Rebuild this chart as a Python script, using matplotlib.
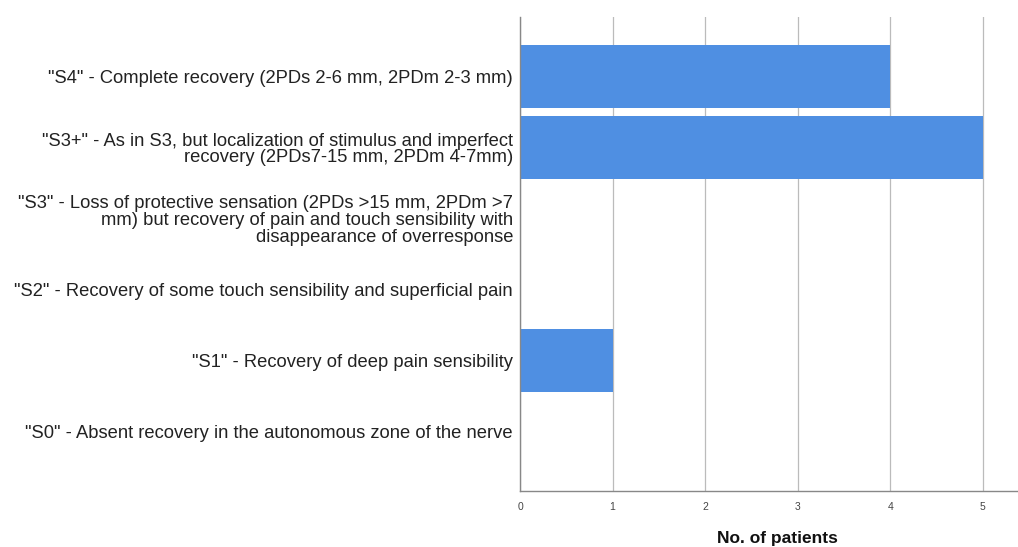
import matplotlib
matplotlib.use("Agg")
import matplotlib.pyplot as plt

categories = [
    '"S4" - Complete recovery (2PDs 2-6 mm, 2PDm 2-3 mm)',
    '"S3+" - As in S3, but localization of stimulus and imperfect\nrecovery (2PDs7-15 mm, 2PDm 4-7mm)',
    '"S3" - Loss of protective sensation (2PDs >15 mm, 2PDm >7\nmm) but recovery of pain and touch sensibility with\ndisappearance of overresponse',
    '"S2" - Recovery of some touch sensibility and superficial pain',
    '"S1" - Recovery of deep pain sensibility',
    '"S0" - Absent recovery in the autonomous zone of the nerve',
]
values = [4, 5, 0, 0, 1, 0]
xticks = [0, 1, 2, 3, 4, 5]

plt.rcParams['font.family'] = ['Liberation Sans', 'DejaVu Sans']

fig = plt.figure(figsize=(10.18, 5.47), dpi=100)
ax = fig.add_axes([520 / 1018, 1 - 491 / 547, (1017 - 520) / 1018, (491 - 17) / 547])

n = len(categories)
pos = [n - 1 - i for i in range(n)]
ax.barh(pos, values, height=0.88, color='#4F8FE2', zorder=3)

ax.set_xlim(0, 5.37)
ax.set_ylim(-0.84, n - 1 + 0.84)
ax.set_xticks(xticks)
ax.set_xticklabels([str(t) for t in xticks], fontsize=7.5, color='#444444')
ax.tick_params(axis='x', length=0, pad=8)
ax.set_yticks(pos)
ax.set_yticklabels(categories, fontsize=13.2, color='#222222', linespacing=0.98)
ax.tick_params(axis='y', length=0, pad=5)

ax.grid(axis='x', color='#BBBBBB', linewidth=0.9, zorder=0)
for s in ['top', 'right']:
    ax.spines[s].set_visible(False)
ax.spines['left'].set_color('#888888')
ax.spines['bottom'].set_color('#888888')
ax.spines['left'].set_linewidth(1.0)
ax.spines['bottom'].set_linewidth(1.0)
ax.spines['left'].set_zorder(4)

fig.text(777 / 1018, 1 - 538 / 547, 'No. of patients', ha='center', va='center',
         fontsize=12.5, fontweight='bold', color='#111111')

fig.savefig('out.png', dpi=100)
